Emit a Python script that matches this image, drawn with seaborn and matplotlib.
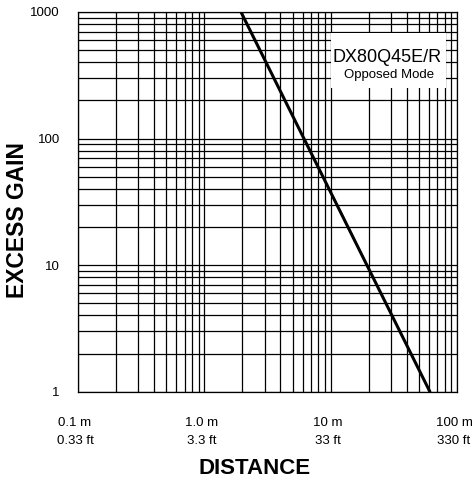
import matplotlib
matplotlib.use("Agg")
import matplotlib.pyplot as plt
import matplotlib.ticker as mticker
import matplotlib.transforms as mtransforms
from matplotlib.patches import Rectangle
import seaborn as sns
import pandas as pd

distance_m = [1.95, 61.0]
excess_gain = [1000, 1]
x_ticks = [0.1, 1, 10, 100]
x_tick_labels = ["0.1 m\n0.33 ft", "1.0 m\n3.3 ft", "10 m\n33 ft", "100 m\n330 ft"]
y_ticks = [1, 10, 100, 1000]
y_tick_labels = ["1", "10", "100", "1000"]
title_main = "DX80Q45E/R"
title_sub = "Opposed Mode"

sns.set_style("white")
plt.rcParams['font.family'] = ['Liberation Sans', 'DejaVu Sans']
plt.rcParams['text.color'] = 'black'
plt.rcParams['axes.labelcolor'] = 'black'

fig = plt.figure(figsize=(4.72, 4.80), dpi=100)
ax = fig.add_axes([78/472, 1-391.7/480, 379/472, 379.7/480])

df = pd.DataFrame({"distance": distance_m, "gain": excess_gain})
sns.lineplot(data=df, x="distance", y="gain", ax=ax, color="black", linewidth=2.2, zorder=5)

ax.set_xscale("log")
ax.set_yscale("log")
ax.set_xlim(0.1, 100)
ax.set_ylim(1, 1000)

ax.xaxis.set_major_locator(mticker.FixedLocator(x_ticks))
ax.yaxis.set_major_locator(mticker.FixedLocator(y_ticks))
ax.xaxis.set_minor_locator(mticker.LogLocator(base=10, subs=range(2, 10), numticks=20))
ax.yaxis.set_minor_locator(mticker.LogLocator(base=10, subs=range(2, 10), numticks=20))
ax.set_xticklabels(x_tick_labels)
ax.set_yticklabels(y_tick_labels)
ax.xaxis.set_minor_formatter(mticker.NullFormatter())
ax.yaxis.set_minor_formatter(mticker.NullFormatter())

ax.grid(True, which="both", color="black", linewidth=0.9)
ax.tick_params(which="major", direction="out", length=6, width=0.9, color="black",
               labelsize=9.5, labelcolor="black")
ax.tick_params(axis="x", which="major", pad=12.5)
ax.tick_params(axis="y", which="major", pad=7)
ax.tick_params(which="minor", length=0)
for s in ax.spines.values():
    s.set_color("black")
    s.set_linewidth(0.9)

offset = mtransforms.ScaledTranslation(-3/100, 0, fig.dpi_scale_trans)
for lbl in ax.get_xticklabels():
    lbl.set_linespacing(1.6)
    lbl.set_transform(lbl.get_transform() + offset)

ax.set_xlabel("DISTANCE", fontsize=16, fontweight="bold", va="top")
ax.xaxis.set_label_coords(0.467, -0.1755)
ax.set_ylabel("EXCESS GAIN", fontsize=16.5, fontweight="bold")
ax.yaxis.set_label_coords(-0.13, 0.452)

ax.add_patch(Rectangle((0.668, 0.80), 0.303, 0.145, transform=ax.transAxes,
                       facecolor="white", edgecolor="none", zorder=6))
ax.text(0.815, 0.880, title_main, transform=ax.transAxes, ha="center", va="center",
        fontsize=13, zorder=7)
ax.text(0.822, 0.834, title_sub, transform=ax.transAxes, ha="center", va="center",
        fontsize=9.5, zorder=7)

fig.savefig("out.png", dpi=100)
